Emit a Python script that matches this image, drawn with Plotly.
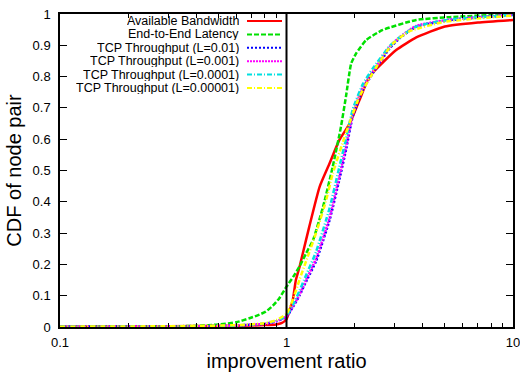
import plotly.graph_objects as go

# ---- data ----
bw_x = [0.1, 0.3, 0.6, 0.8, 0.9, 0.95, 1.0, 1.03, 1.066, 1.10, 1.14, 1.18, 1.26, 1.40, 1.55, 1.71, 1.90, 2.10, 2.32, 2.66, 3.05, 3.74, 5.0, 7.0, 10]
bw_y = [0.001, 0.002, 0.004, 0.006, 0.008, 0.012, 0.025, 0.05, 0.086, 0.15, 0.19, 0.235, 0.32, 0.448, 0.523, 0.597, 0.65, 0.725, 0.80, 0.845, 0.885, 0.925, 0.96, 0.973, 0.981]

lat_x = [0.1, 0.3, 0.41, 0.5, 0.6, 0.686, 0.75, 0.81, 0.87, 0.93, 1.0, 1.07, 1.14, 1.22, 1.31, 1.45, 1.60, 1.74, 1.83, 1.93, 2.03, 2.25, 2.66, 3.74, 5.25, 10]
lat_y = [0.001, 0.002, 0.004, 0.008, 0.015, 0.028, 0.038, 0.049, 0.068, 0.092, 0.129, 0.16, 0.193, 0.235, 0.278, 0.384, 0.512, 0.64, 0.736, 0.842, 0.874, 0.917, 0.949, 0.981, 0.99, 1.0]

tcp_x = [0.1, 0.4, 0.6, 0.8, 0.9, 1.0, 1.07, 1.14, 1.22, 1.35, 1.55, 1.71, 1.83, 1.96, 2.17, 2.40, 2.85, 3.15, 3.74, 5.25, 10]
tcp1_y = [0.001, 0.002, 0.005, 0.010, 0.018, 0.033, 0.065, 0.100, 0.145, 0.210, 0.342, 0.470, 0.565, 0.672, 0.757, 0.810, 0.890, 0.922, 0.959, 0.980, 0.997]
tcp2_y = [0.001, 0.002, 0.005, 0.010, 0.018, 0.034, 0.067, 0.103, 0.150, 0.218, 0.350, 0.480, 0.575, 0.680, 0.765, 0.815, 0.895, 0.925, 0.962, 0.982, 0.998]
tcp3_y = [0.001, 0.002, 0.005, 0.011, 0.020, 0.036, 0.072, 0.115, 0.165, 0.240, 0.380, 0.510, 0.600, 0.695, 0.775, 0.825, 0.897, 0.925, 0.960, 0.982, 0.997]

tcp4_x = [0.1, 0.4, 0.6, 0.8, 0.9, 1.0, 1.07, 1.14, 1.22, 1.35, 1.49, 1.60, 1.83, 2.10, 2.49, 2.95, 3.5, 5.0, 10]
tcp4_y = [0.001, 0.003, 0.006, 0.012, 0.022, 0.042, 0.090, 0.150, 0.210, 0.300, 0.400, 0.490, 0.620, 0.736, 0.830, 0.906, 0.945, 0.975, 0.995]

names = ["Available Bandwidth", "End-to-End Latency", "TCP Throughput (L=0.01)",
         "TCP Throughput (L=0.001)", "TCP Throughput (L=0.0001)", "TCP Throughput (L=0.00001)"]
colors = ["#ff0000", "#00e000", "#0000ff", "#ff00ff", "#00e0e0", "#ffff00"]
dashes = ["solid", "5px,2px", "2px,2px", "2px,1px", "5px,2px,1px,2px", "5px,2px,1px,2px"]
series = [(bw_x, bw_y), (lat_x, lat_y), (tcp_x, tcp1_y), (tcp_x, tcp2_y), (tcp_x, tcp3_y), (tcp4_x, tcp4_y)]

xticks = [0.1, 1, 10]
xticklabels = ["0.1", "1", "10"]
minor_x = [0.2, 0.3, 0.4, 0.5, 0.6, 0.7, 0.8, 0.9, 2, 3, 4, 5, 6, 7, 8, 9]

FONT = "Liberation Sans, Arial, sans-serif"

fig = go.Figure()
for (xs, ys), n, c, d in zip(series, names, colors, dashes):
    fig.add_trace(go.Scatter(x=xs, y=ys, mode="lines", name=n,
                             line=dict(color=c, width=2.5, dash=d, shape="spline", smoothing=0.5),
                             showlegend=False))

# vertical reference at ratio = 1
fig.add_shape(type="line", xref="x", yref="y", x0=1, x1=1, y0=0, y1=1,
              line=dict(color="black", width=2))

# gnuplot-style legend (text right, sample on the right)
row_y = [21.0, 34.4, 47.8, 61.2, 74.6, 88.0]
H = 374
T, B = 14, 47
ph = H - T - B
for n, c, d, ry in zip(names, colors, dashes, row_y):
    yp = 1 - (ry - T) / ph
    fig.add_annotation(xref="paper", yref="paper", x=(240 - 60) / 453, y=yp,
                       text=n, showarrow=False, xanchor="right", yanchor="middle",
                       height=12, borderpad=0,
                       font=dict(family=FONT, size=12.5, color="black"))
    fig.add_shape(type="line", xref="paper", yref="paper",
                  x0=(247 - 60) / 453, x1=(282 - 60) / 453, y0=yp, y1=yp,
                  line=dict(color=c, width=2, dash=d))

axis_common = dict(showline=True, linecolor="black", linewidth=1.5, mirror="allticks",
                   ticks="inside", ticklen=7, tickcolor="black", tickwidth=1,
                   showgrid=False, zeroline=False, automargin=False,
                   ticklabeloverflow="allow",
                   tickfont=dict(family=FONT, size=13, color="black"))

fig.update_layout(
    width=520, height=374,
    margin=dict(l=60, r=7, t=14, b=47),
    plot_bgcolor="white", paper_bgcolor="white",
    font=dict(family=FONT, color="black"),
    xaxis=dict(type="log", range=[-1, 1], tickmode="array", tickvals=xticks, ticktext=xticklabels,
               ticklabelstandoff=3,
               minor=dict(tickmode="array", tickvals=minor_x, ticks="inside", ticklen=4,
                          tickcolor="black", showgrid=False),
               title=dict(text="improvement ratio", font=dict(family=FONT, size=20), standoff=2),
               **axis_common),
    yaxis=dict(range=[0, 1], dtick=0.1, tick0=0, ticklabelstandoff=5,
               title=dict(text="CDF of node pair", font=dict(family=FONT, size=20), standoff=6),
               **axis_common),
)

fig.write_html("out.html")
